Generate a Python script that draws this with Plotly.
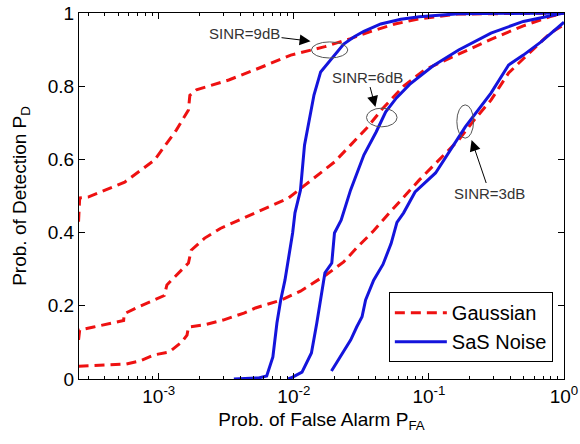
import math
import plotly.graph_objects as go

# ---------------- data ----------------
pfa_gauss_9 = [2.55e-4, 2.6e-4, 3.0e-4, 5.6e-4, 9.3e-4, 1.35e-3, 1.66e-3, 1.70e-3, 1.9e-3,
               3.3e-3, 5.5e-3, 9.5e-3, 1.7e-2, 2.63e-2, 3.6e-2, 5.6e-2, 8.5e-2, 0.16, 1.0]
pd_gauss_9 = [0.43, 0.495, 0.497, 0.538, 0.598, 0.68, 0.735, 0.775, 0.79,
              0.817, 0.849, 0.885, 0.908, 0.93, 0.948, 0.97, 0.984, 0.997, 1.0]

pfa_sas_9 = [3.6e-3, 5.5e-3, 6.3e-3, 7.0e-3, 7.5e-3, 8.0e-3, 8.6e-3, 9.8e-3, 1.02e-2, 1.12e-2,
             1.20e-2, 1.32e-2, 1.41e-2, 1.58e-2, 1.91e-2, 2.34e-2, 2.8e-2, 3.3e-2, 4.4e-2,
             6.2e-2, 8.5e-2, 0.166, 1.0]
pd_sas_9 = [0.0, 0.003, 0.008, 0.06, 0.153, 0.216, 0.27, 0.399, 0.454, 0.516,
            0.639, 0.721, 0.776, 0.839, 0.877, 0.915, 0.935, 0.95, 0.97,
            0.983, 0.99, 0.998, 1.0]

pfa_gauss_6 = [2.55e-4, 2.6e-4, 3.3e-4, 4.8e-4, 5.5e-4, 5.55e-4, 6.8e-4, 9.3e-4, 1.1e-3, 1.15e-3,
               1.32e-3, 1.66e-3, 1.74e-3, 2.19e-3, 2.88e-3, 4.27e-3, 5.2e-3, 9.1e-3, 1.41e-2,
               2.0e-2, 2.63e-2, 3.47e-2, 4.57e-2, 6.5e-2, 9.3e-2, 0.166, 0.288, 0.5, 0.79, 1.0]
pd_gauss_6 = [0.107, 0.134, 0.142, 0.156, 0.16, 0.178, 0.194, 0.216, 0.228, 0.257,
              0.279, 0.317, 0.352, 0.385, 0.412, 0.44, 0.454, 0.494, 0.549,
              0.593, 0.639, 0.686, 0.74, 0.80, 0.845, 0.888, 0.928, 0.965, 0.99, 1.0]

pfa_sas_6 = [9.1e-3, 9.8e-3, 1.15e-2, 1.35e-2, 1.48e-2, 1.62e-2, 1.70e-2, 1.91e-2, 2.0e-2,
             2.24e-2, 2.63e-2, 3.3e-2, 4.07e-2, 4.79e-2, 5.75e-2, 7.2e-2, 0.107, 0.166,
             0.288, 0.5, 0.89, 1.0]
pd_sas_6 = [0.0, 0.005, 0.019, 0.071, 0.153, 0.243, 0.29, 0.317, 0.399,
            0.434, 0.516, 0.612, 0.675, 0.73, 0.768, 0.805, 0.855, 0.899,
            0.945, 0.977, 0.996, 1.0]

pfa_gauss_3 = [2.55e-4, 3.9e-4, 5.75e-4, 7.2e-4, 9.3e-4, 1.2e-3, 1.48e-3, 1.62e-3, 1.66e-3,
               2.19e-3, 3.0e-3, 4.27e-3, 5.2e-3, 8.1e-3, 1.12e-2, 1.74e-2, 2.34e-2, 2.95e-2,
               3.9e-2, 5.1e-2, 6.8e-2, 8.5e-2, 0.166, 0.219, 0.288, 0.389, 0.5, 0.79, 1.0]
pd_gauss_3 = [0.035, 0.038, 0.041, 0.049, 0.066, 0.074, 0.101, 0.12, 0.142,
              0.148, 0.161, 0.18, 0.194, 0.216, 0.24, 0.285, 0.32, 0.36,
              0.405, 0.454, 0.505, 0.544, 0.653, 0.71, 0.762, 0.836, 0.875, 0.945, 0.968]

pfa_sas_3 = [1.9e-2, 2.2e-2, 2.64e-2, 2.92e-2, 3.2e-2, 3.4e-2, 3.9e-2, 4.57e-2, 5.25e-2, 5.8e-2,
             6.5e-2, 7.9e-2, 0.112, 0.186, 0.288, 0.389, 0.5, 0.676, 1.0]
pd_sas_3 = [0.022, 0.06, 0.107, 0.142, 0.17, 0.216, 0.27, 0.313, 0.37, 0.428,
            0.454, 0.511, 0.563, 0.689, 0.781, 0.858, 0.885, 0.921, 0.975]

x_tick_vals = [1e-3, 1e-2, 1e-1, 1.0]
x_tick_text = ["10<sup>-3</sup>", "10<sup>-2</sup>", "10<sup>-1</sup>", "10<sup>0</sup>"]
y_tick_vals = [0, 0.2, 0.4, 0.6, 0.8, 1.0]
y_tick_text = ["0", "0.2", "0.4", "0.6", "0.8", "1"]

# annotation labels: text, arrow tip (pfa, pd), text offset in px
ann_labels = ["SINR=9dB", "SINR=6dB", "SINR=3dB"]
ann_tip_pfa = [1.33e-2, 4.02e-2, 0.207]
ann_tip_pd = [0.923, 0.743, 0.653]
ann_ax = [-66, -8, 18]
ann_ay = [-8, -30, 53]

# ellipses around curve pairs (pfa range, pd range)
ell_pfa0 = [1.35e-2, 3.45e-2, 0.161]
ell_pfa1 = [2.51e-2, 5.81e-2, 0.214]
ell_pd0 = [0.877, 0.689, 0.658]
ell_pd1 = [0.921, 0.740, 0.749]

RED = "#ee1111"
BLUE = "#1414dc"
FONT = "Liberation Sans, Arial, sans-serif"

fig = go.Figure()
gauss = [(pfa_gauss_9, pd_gauss_9), (pfa_gauss_6, pd_gauss_6), (pfa_gauss_3, pd_gauss_3)]
sas = [(pfa_sas_9, pd_sas_9), (pfa_sas_6, pd_sas_6), (pfa_sas_3, pd_sas_3)]
for i, (xv, yv) in enumerate(gauss):
    fig.add_trace(go.Scatter(x=xv, y=yv, mode="lines", name="Gaussian",
                             line=dict(color=RED, width=3, dash="10px,6px"),
                             showlegend=(i == 0)))
for i, (xv, yv) in enumerate(sas):
    fig.add_trace(go.Scatter(x=xv, y=yv, mode="lines", name="SaS Noise",
                             line=dict(color=BLUE, width=3),
                             showlegend=(i == 0)))

for i in range(3):
    fig.add_shape(type="circle", xref="x", yref="y",
                  x0=ell_pfa0[i], x1=ell_pfa1[i], y0=ell_pd0[i], y1=ell_pd1[i],
                  line=dict(color="#555555", width=1))
    fig.add_annotation(x=math.log10(ann_tip_pfa[i]), y=ann_tip_pd[i], xref="x", yref="y",
                       text=ann_labels[i], showarrow=True, axref="pixel", ayref="pixel",
                       ax=ann_ax[i], ay=ann_ay[i], arrowhead=2, arrowsize=2.2,
                       arrowwidth=1, arrowcolor="#000000",
                       font=dict(family=FONT, size=15, color="#333333"))

fig.update_layout(
    width=580, height=444,
    margin=dict(l=79, r=16, t=13, b=65),
    paper_bgcolor="white", plot_bgcolor="white",
    font=dict(family=FONT, size=19, color="black"),
    showlegend=True,
    legend=dict(x=0.977, y=0.046, xanchor="right", yanchor="bottom",
                bordercolor="black", borderwidth=1, bgcolor="white",
                font=dict(family=FONT, size=20, color="black"),
                itemwidth=52, tracegroupgap=0),
)
fig.update_xaxes(type="log", range=[math.log10(2.57e-4), 0], automargin=False,
                 tickvals=x_tick_vals, ticktext=x_tick_text,
                 ticks="inside", ticklen=6, tickcolor="black",
                 showline=True, linecolor="black", linewidth=1, mirror="allticks",
                 showgrid=False, zeroline=False,
                 minor=dict(ticks="inside", ticklen=3, tickcolor="black",
                            tickvals=[k * 10 ** e for e in range(-4, 0) for k in range(2, 10)],
                            showgrid=False),
                 tickfont=dict(size=19),
                 title=dict(text="Prob. of False Alarm P<sub>FA</sub>", font=dict(size=19),
                            standoff=6))
fig.update_yaxes(range=[0, 1], automargin=False, tickvals=y_tick_vals, ticktext=y_tick_text,
                 ticks="inside", ticklen=6, tickcolor="black",
                 showline=True, linecolor="black", linewidth=1, mirror="allticks",
                 showgrid=False, zeroline=False, tickfont=dict(size=19),
                 title=dict(text="Prob. of Detection P<sub>D</sub>", font=dict(size=19),
                            standoff=16))

fig.write_html("out.html")
